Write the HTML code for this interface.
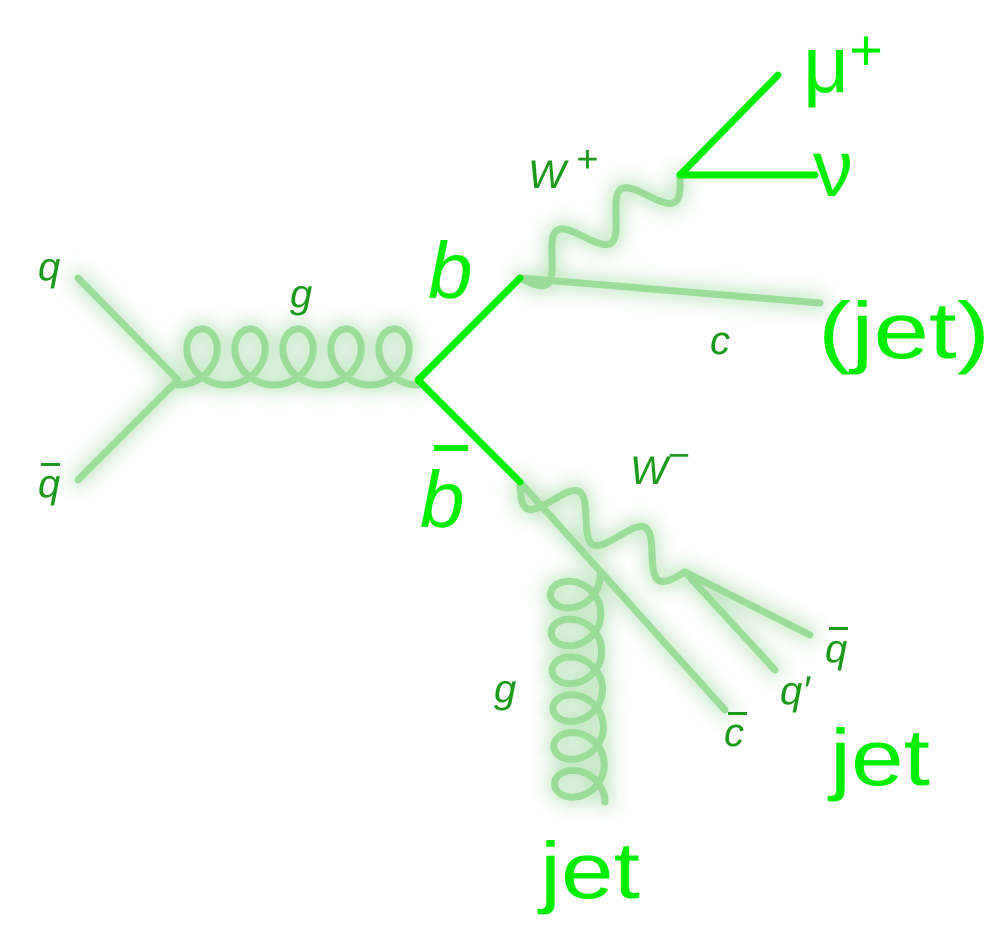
<!DOCTYPE html>
<html><head><meta charset="utf-8"><style>
html,body{margin:0;padding:0;background:#fff}
svg{display:block}
text{font-family:"Liberation Sans",sans-serif}
.sm{fill:#1a991a;font-style:italic;font-size:40px}
.bg{fill:#00ee00;font-size:80px}
</style></head><body>
<svg id="s" width="1000" height="936" viewBox="0 0 1000 936">
<defs><filter id="glow" x="-20%" y="-20%" width="140%" height="140%"><feGaussianBlur stdDeviation="9"/></filter></defs>
<g id="glowg" filter="url(#glow)" opacity="0.45" stroke="#7ec87e" stroke-width="16" fill="none" stroke-linecap="round"></g>
<g id="pale" stroke="#99dd99" stroke-width="7" fill="none" stroke-linecap="round"></g>
<g stroke="#00ee00" stroke-width="7" fill="none" stroke-linecap="round">
<line x1="418" y1="380" x2="520" y2="278"/>
<line x1="418" y1="380" x2="520" y2="482"/>
<line x1="680" y1="175" x2="778" y2="75"/>
<line x1="680" y1="175" x2="815" y2="175"/>
</g>
<text class="sm" x="38" y="280">q</text>
<text class="sm" x="38" y="497">q</text>
<rect x="41" y="463" width="19" height="3" fill="#1a991a"/>
<text class="sm" x="290" y="307">g</text>
<text class="bg" x="428" y="298" font-style="italic" font-size="76">b</text>
<text class="bg" x="420" y="527" font-style="italic" font-size="76">b</text>
<rect x="434" y="445" width="34" height="6" fill="#00ee00"/>
<text class="sm" x="528" y="188" font-size="48">W<tspan dy="-16" font-size="38" font-style="normal"> +</tspan></text>
<text class="bg" x="803" y="92" font-size="78">μ<tspan dy="-22" font-size="58">+</tspan></text>
<text class="bg" x="813" y="196" font-size="74">ν</text>
<text class="bg" x="818" y="358" font-size="80" textLength="172" lengthAdjust="spacingAndGlyphs">(jet)</text>
<text class="sm" x="710" y="354">c</text>
<text class="sm" x="630" y="484" font-size="48">W<tspan dy="-16" font-size="38" font-style="normal">−</tspan></text>
<text class="sm" x="825" y="662">q</text>
<rect x="829" y="627" width="19" height="3" fill="#1a991a"/>
<text class="sm" x="780" y="704">q′</text>
<text class="sm" x="724" y="746">c</text>
<rect x="728" y="712" width="19" height="3" fill="#1a991a"/>
<text class="sm" x="494" y="702">g</text>
<text class="bg" x="830" y="785" font-size="80" textLength="100" lengthAdjust="spacingAndGlyphs">jet</text>
<text class="bg" x="540" y="898" font-size="80" textLength="100" lengthAdjust="spacingAndGlyphs">jet</text>
</svg>
<script>
function line(x1,y1,x2,y2){return `M${x1} ${y1}L${x2} ${y2}`;}
function gluon(x1,y1,x2,y2,n,amp,side,rr){
  const dx=x2-x1,dy=y2-y1,L=Math.hypot(dx,dy),ux=dx/L,uy=dy/L;
  const px=-uy*side,py=ux*side;
  const k=L/(2*Math.PI*n),r=rr;
  let d='';
  for(let i=0;i<=n*80;i++){
    const t=i/80*2*Math.PI;
    const a=k*t+r*Math.sin(t);
    const b=amp*(1-Math.cos(t))/2;
    const x=x1+ux*a+px*b,y=y1+uy*a+py*b;
    d+=(i?'L':'M')+x.toFixed(1)+' '+y.toFixed(1);
  }
  return d;
}
function wavy(x1,y1,x2,y2,n,amp){
  const dx=x2-x1,dy=y2-y1,L=Math.hypot(dx,dy),ux=dx/L,uy=dy/L;
  let d='';
  for(let i=0;i<=200;i++){const s=i/200;const o=amp*Math.sin(s*n*2*Math.PI);
    const x=x1+dx*s-uy*o,y=y1+dy*s+ux*o;d+=(i?'L':'M')+x.toFixed(1)+' '+y.toFixed(1);}
  return d;
}
const paths=[
 ['q-line',line(78,278,178,380)],
 ['qbar-line',line(78,480,178,380)],
 ['gluon-s-channel',gluon(178,385,418,385,5,56,-1,26)],
 ['c-quark-line',line(520,278,820,303)],
 ['w-plus-boson',wavy(520,278,680,175,2.5,20)],
 ['cbar-quark-line',line(520,482,725,710)],
 ['w-minus-boson',wavy(520,482,685,572,2.5,20)],
 ['qbar-2-line',line(685,572,810,635)],
 ['q-prime-line',line(685,572,775,670)],
 ['gluon-radiated',gluon(600,575,605,802,6,50,1,22)]
];
const NS='http://www.w3.org/2000/svg';
const pale=document.getElementById('pale'),gl=document.getElementById('glowg');
for(const [n,d] of paths){
  const p=document.createElementNS(NS,'path');p.setAttribute('d',d);
  
  
  pale.appendChild(p);
  const g=document.createElementNS(NS,'path');g.setAttribute('d',d);
  
  
  gl.appendChild(g);
}
</script>
</body></html>
